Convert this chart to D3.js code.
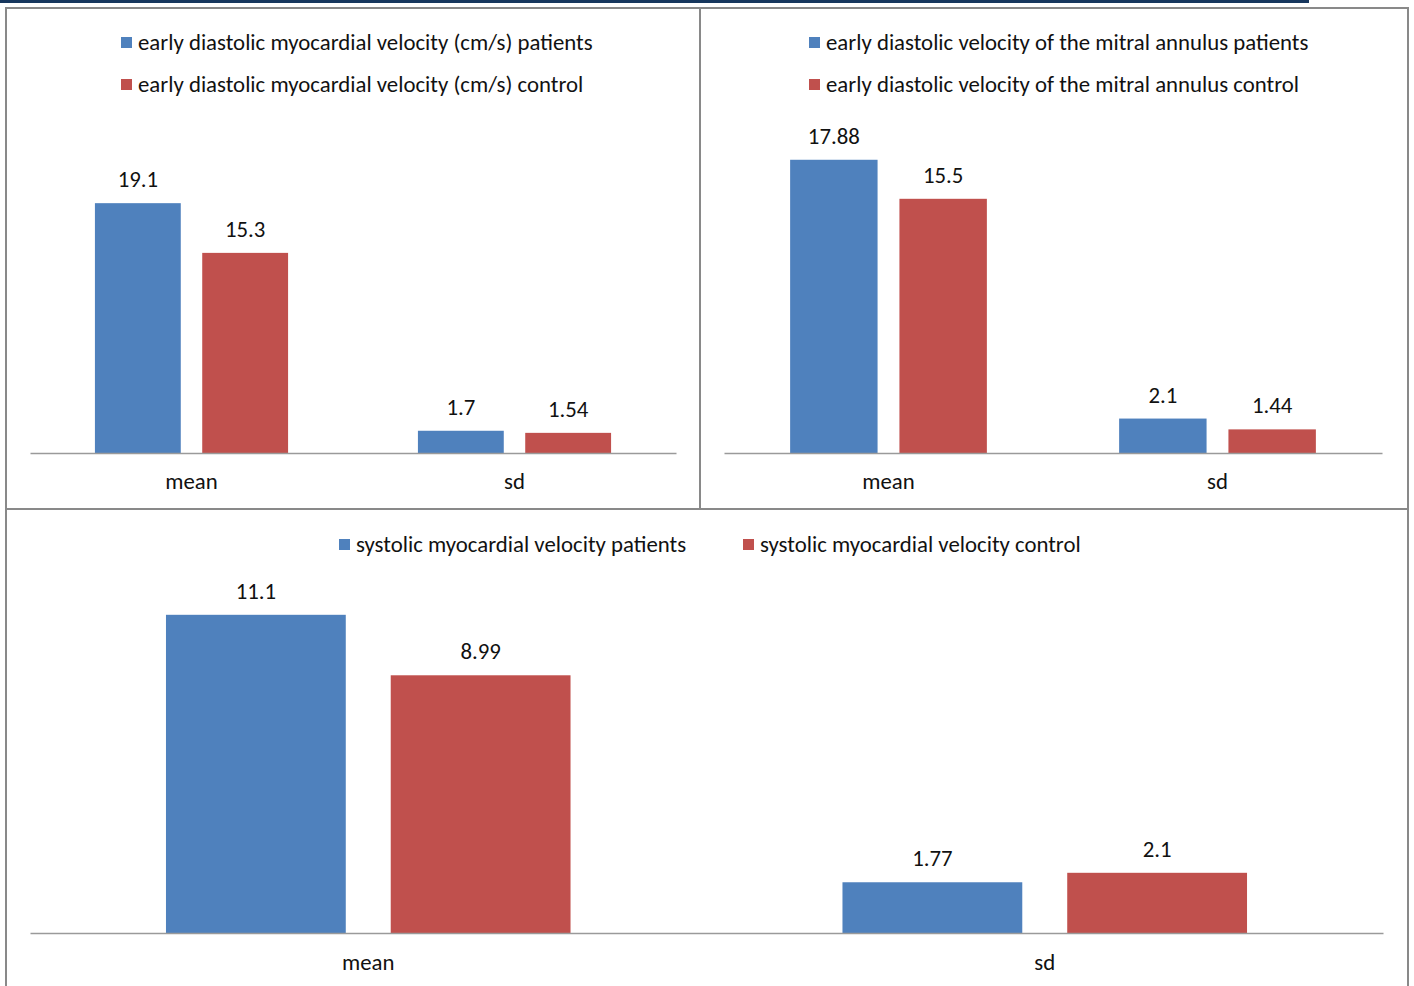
<!DOCTYPE html>
<html>
<head>
<meta charset="utf-8">
<script src="https://cdn.jsdelivr.net/npm/d3@7"></script>
<style>
  html, body { margin: 0; padding: 0; background: #fff; }
  svg { display: block; }
  text { font-family: Carlito, Lato, "Open Sans", sans-serif; fill: #111; }
</style>
</head>
<body>
<svg id="chart" width="1414" height="986"></svg>
<script>
// ---- data ----
const categories = ["mean", "sd"];

const panel1Series = ["early diastolic myocardial velocity (cm/s) patients",
                      "early diastolic myocardial velocity (cm/s) control"];
const panel1Patients = [19.1, 1.7];
const panel1Control = [15.3, 1.54];

const panel2Series = ["early diastolic velocity of the mitral annulus patients",
                      "early diastolic velocity of the mitral annulus control"];
const panel2Patients = [17.88, 2.1];
const panel2Control = [15.5, 1.44];

const panel3Series = ["systolic myocardial velocity patients",
                      "systolic myocardial velocity control"];
const panel3Patients = [11.1, 1.77];
const panel3Control = [8.99, 2.1];

const colors = ["#4F81BD", "#C0504D"];

// ---- layout ----
const svg = d3.select("#chart");
const FONT = 22.8;

// top dark band
svg.append("rect").attr("x", 0).attr("y", 0).attr("width", 1309).attr("height", 3).attr("fill", "#17375E");

const panels = [
  { series: panel1Series, values: [panel1Patients, panel1Control], yMax: 25,
    x0: 30, x1: 676, axisY: 453, plotTop: 126, legend: "column", legendX: 121, legendY: 37, labelY: 489 },
  { series: panel2Series, values: [panel2Patients, panel2Control], yMax: 20,
    x0: 724, x1: 1382, axisY: 453, plotTop: 125, legend: "column", legendX: 809, legendY: 37, labelY: 489 },
  { series: panel3Series, values: [panel3Patients, panel3Control], yMax: 12,
    x0: 30, x1: 1383, axisY: 933, plotTop: 589, legend: "row", legendX: [339, 743], legendY: 539, labelY: 970 }
];

panels.forEach(p => {
  const g = svg.append("g");
  const x = d3.scaleBand().domain(categories).range([p.x0, p.x1]).paddingInner(0).paddingOuter(0);
  const xi = d3.scaleBand().domain([0, 1]).range([0, x.bandwidth()]).paddingInner(0.2).paddingOuter(0.605);
  const y = d3.scaleLinear().domain([0, p.yMax]).range([p.axisY, p.plotTop]);

  const rows = [];
  categories.forEach((c, ci) => p.values.forEach((vals, si) => rows.push({ c, si, v: vals[ci] })));

  g.selectAll("rect.bar").data(rows).join("rect")
    .attr("class", "bar")
    .attr("x", d => x(d.c) + xi(d.si))
    .attr("width", xi.bandwidth())
    .attr("y", d => y(d.v))
    .attr("height", d => y(0) - y(d.v))
    .attr("fill", d => colors[d.si]);

  g.selectAll("text.val").data(rows).join("text")
    .attr("class", "val")
    .attr("x", d => x(d.c) + xi(d.si) + xi.bandwidth() / 2)
    .attr("y", d => y(d.v) - 16)
    .attr("text-anchor", "middle")
    .attr("font-size", FONT)
    .text(d => d.v);

  // axis
  const axis = d3.axisBottom(x).tickSize(0).tickPadding(0);
  const ag = g.append("g").attr("transform", `translate(0,${p.axisY})`).call(axis);
  ag.select(".domain").attr("stroke", "#9a9a9a").attr("stroke-width", 1.5);
  ag.selectAll(".tick text")
    .attr("font-size", FONT)
    .attr("fill", "#111")
    .attr("dy", null)
    .attr("y", p.labelY - p.axisY)
    .style("font-family", "Carlito, Lato, 'Open Sans', sans-serif");

  // legend
  p.series.forEach((s, i) => {
    let lx, ly;
    if (p.legend === "column") { lx = p.legendX; ly = p.legendY + i * 42; }
    else { lx = p.legendX[i]; ly = p.legendY; }
    g.append("rect").attr("x", lx).attr("y", ly).attr("width", 11).attr("height", 11).attr("fill", colors[i]);
    g.append("text").attr("x", lx + 17).attr("y", ly + 13).attr("font-size", FONT).text(s);
  });
});

// panel borders
const border = "#898989";
svg.append("rect").attr("x", 6).attr("y", 8).attr("width", 1402).attr("height", 1000)
  .attr("fill", "none").attr("stroke", border).attr("stroke-width", 2);
svg.append("line").attr("x1", 700).attr("x2", 700).attr("y1", 8).attr("y2", 509)
  .attr("stroke", border).attr("stroke-width", 2);
svg.append("line").attr("x1", 6).attr("x2", 1408).attr("y1", 509).attr("y2", 509)
  .attr("stroke", border).attr("stroke-width", 2);
</script>
</body>
</html>
